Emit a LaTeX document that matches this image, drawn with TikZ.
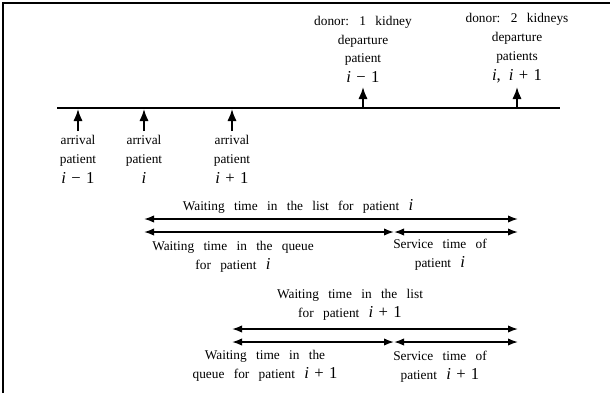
\documentclass[tikz,border=0pt]{standalone}
\usepackage{fontspec}
\setmainfont{Liberation Serif}
\usetikzlibrary{arrows.meta,positioning}

\newcommand{\pv}{\textit{i}}
\newcommand{\bigv}[1]{{\fontsize{12.5}{14}\selectfont #1}}
\newcommand{\vminus}{\hspace{4pt}−\hspace{4pt}}
\newcommand{\vplus}{\hspace{4pt}+\hspace{4pt}}
\newcommand{\widesp}{\spaceskip=7pt plus 1pt\relax}

\tikzset{
  lbl/.style={font=\fontsize{10}{14}\selectfont\widesp, align=center, inner sep=0pt},
  axis/.style={line width=1.6pt},
  tick/.style={-{Latex[length=9pt,width=7pt]}, line width=1.4pt},
  span/.style={{Latex[length=7.5pt,width=5.5pt]}-{Latex[length=7.5pt,width=5.5pt]}, line width=1.1pt},
}

\begin{document}
\begin{tikzpicture}[x=0.75pt,y=-0.75pt]
  \useasboundingbox (0,0) rectangle (610,393);
  \draw[line width=1pt] (3,393) -- (3,3) -- (610,3);

  % time axis
  \coordinate (t0) at (57,108);
  \coordinate (t1) at (560,108);
  \draw[axis] (t0) -- (t1);

  % arrivals
  \foreach \n/\x in {1/78,2/144,3/232} {
    \coordinate (arr\n) at (\x,131);
    \coordinate (arrtip\n) at (\x,109);
    \draw[tick] (arr\n) -- (arrtip\n);
  }
  \node[lbl, below=3pt of arr1] (arrlbl1) {arrival\\patient\\[1pt]\bigv{\pv\vminus1}};
  \node[lbl, below=3pt of arr2] (arrlbl2) {arrival\\patient\\[1pt]\bigv{\pv}};
  \node[lbl, below=3pt of arr3] (arrlbl3) {arrival\\patient\\[1pt]\bigv{\pv\vplus1}};

  % departures
  \foreach \n/\x in {1/363,2/517} {
    \coordinate (dep\n) at (\x,107);
    \coordinate (deptip\n) at (\x,87);
    \draw[tick] (dep\n) -- (deptip\n);
  }
  \node[lbl, above=3pt of deptip1] (deplbl1) {donor: 1 kidney\\departure\\patient\\[1pt]\bigv{\pv\vminus1}};
  \node[lbl, above=3pt of deptip2] (deplbl2) {donor: 2 kidneys\\departure\\patients\\[1pt]\bigv{\pv,\hspace{6pt}\pv\vplus1}};

  % patient i
  \coordinate (l1a) at (144,219);
  \coordinate (l1b) at (518,219);
  \coordinate (q1a) at (144,232);
  \coordinate (q1b) at (394,232);
  \coordinate (q1c) at (518,232);
  \draw[span] (l1a) -- (l1b);
  \draw[span] (q1a) -- (q1b);
  \draw[span] (q1b) -- (q1c);
  \node[lbl] (wl1) at (298,206) {Waiting time in the list for patient \bigv{\pv}};
  \node[lbl] (wq1) at (233,257) {Waiting time in the queue\\for patient \bigv{\pv}};
  \node[lbl] (sv1) at (440,255) {Service time of\\patient \bigv{\pv}};

  % patient i+1
  \coordinate (l2a) at (232,329);
  \coordinate (l2b) at (518,329);
  \coordinate (q2a) at (232,342);
  \coordinate (q2b) at (394,342);
  \coordinate (q2c) at (518,342);
  \draw[span] (l2a) -- (l2b);
  \draw[span] (q2a) -- (q2b);
  \draw[span] (q2b) -- (q2c);
  \node[lbl] (wl2) at (350,305) {Waiting time in the list\\for patient \bigv{\pv\vplus1}};
  \node[lbl] (wq2) at (265,366) {Waiting time in the\\queue for patient \bigv{\pv\vplus1}};
  \node[lbl] (sv2) at (440,367) {Service time of\\patient \bigv{\pv\vplus1}};
\end{tikzpicture}
\end{document}
